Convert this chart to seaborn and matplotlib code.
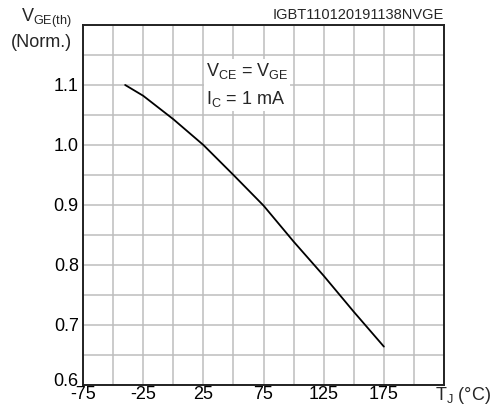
import matplotlib
matplotlib.use("Agg")
import matplotlib.pyplot as plt
import matplotlib.transforms as mtransforms
import seaborn as sns
import pandas as pd

# curve
tj = [-40, -25, 0, 25, 50, 75, 100, 125, 150, 175]
vge_norm = [1.100, 1.082, 1.043, 1.000, 0.950, 0.899, 0.839, 0.782, 0.722, 0.664]

x_ticks = list(range(-75, 226, 25))
x_labels = ["-75", "", "-25", "", "25", "", "75", "", "125", "", "175", "", ""]
y_ticks = [0.6, 0.65, 0.7, 0.75, 0.8, 0.85, 0.9, 0.95, 1.0, 1.05, 1.1, 1.15, 1.2]
y_labels = ["0.6", "", "0.7", "", "0.8", "", "0.9", "", "1.0", "", "1.1", "", ""]

sns.set_theme(style="white")
plt.rcParams["font.family"] = ["Liberation Sans", "DejaVu Sans"]
plt.rcParams["mathtext.fontset"] = "custom"
plt.rcParams["mathtext.rm"] = "Liberation Sans"
plt.rcParams["mathtext.it"] = "Liberation Sans"

df = pd.DataFrame({"Tj": tj, "V": vge_norm})

fig = plt.figure(figsize=(4.93, 4.08), dpi=100)
ax = fig.add_axes([0.1684, 0.0564, 0.7323, 0.8824])

sns.lineplot(data=df, x="Tj", y="V", color="black", linewidth=1.3, ax=ax)

ax.set_xlim(-75, 225)
ax.set_ylim(0.6, 1.2)
ax.set_xticks(x_ticks)
ax.set_xticklabels(x_labels, fontsize=13)
ax.set_yticks(y_ticks)
ax.set_yticklabels(y_labels, fontsize=13)
ax.tick_params(axis="x", length=0, pad=1, colors="black")
ax.tick_params(axis="y", length=0, pad=3, colors="black")
# nudge the bottom y label up so it clears "-75"
lab0 = ax.get_yticklabels()[0]
lab0.set_transform(lab0.get_transform() +
                   mtransforms.ScaledTranslation(0, 5 / 100, fig.dpi_scale_trans))
ax.grid(True, color="#bdbdbd", linewidth=1.1)
ax.set_axisbelow(True)
for s in ax.spines.values():
    s.set_color("#222222")
    s.set_linewidth(1.4)
ax.set_xlabel("")
ax.set_ylabel("")

ax.text(27, 1.10, "V$_{\\mathrm{CE}}$ = V$_{\\mathrm{GE}}$\nI$_{\\mathrm{C}}$ = 1 mA",
        fontsize=13, ha="left", va="center", linespacing=1.5,
        bbox=dict(facecolor="white", edgecolor="none", pad=1.5))

fig.text(0.146, 0.955, "V$_{\\mathrm{GE(th)}}$", fontsize=13, ha="right", va="center")
fig.text(0.146, 0.897, "(Norm.)", fontsize=13, ha="right", va="center")
fig.text(0.997, 0.030, "T$_{\\mathrm{J}}$ (°C)", fontsize=13, ha="right", va="center")
fig.text(0.900, 0.945, "IGBT110120191138NVGE", fontsize=10.5, ha="right", va="bottom")

fig.savefig("out.png", dpi=100)
